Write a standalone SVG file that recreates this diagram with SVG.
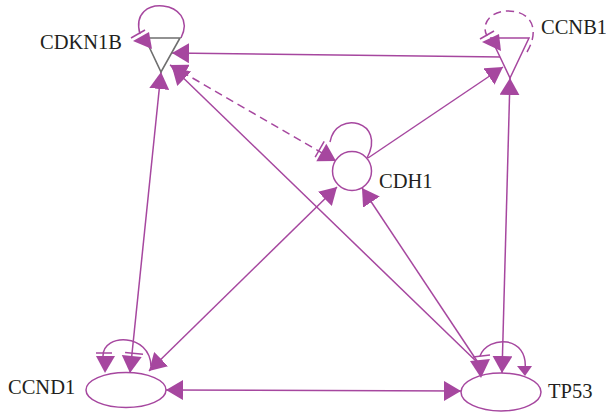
<svg xmlns="http://www.w3.org/2000/svg" width="606" height="413" viewBox="0 0 606 413">
  <defs>
    <style>
      .edge { fill: none; stroke: #A6479F; stroke-width: 1.5; }
      .dash { stroke-dasharray: 8 5; }
      .head { fill: #A6479F; stroke: none; }
      .bar { stroke: #A6479F; stroke-width: 1.5; fill: none; }
      .node { fill: #ffffff; stroke: #A6479F; stroke-width: 1.5; }
      .gray { fill: #ffffff; stroke: #6f6f6f; stroke-width: 1.6; }
      .label { font-family: "Liberation Serif", "Times New Roman", serif; font-size: 20.5px; fill: #231f20; }
    </style>
    <marker id="ah" viewBox="0 0 17 20" refX="17" refY="10" markerWidth="17" markerHeight="20" markerUnits="userSpaceOnUse" orient="auto-start-reverse">
      <path d="M0,0L17,10L0,20z" fill="#A6479F"/>
    </marker>
    <marker id="ahbar" viewBox="-5 -2 22 24" refX="17" refY="10" markerWidth="22" markerHeight="24" markerUnits="userSpaceOnUse" orient="auto-start-reverse">
      <path d="M0,0L17,10L0,20z" fill="#A6479F"/>
      <path d="M-3,-1L-3,17" stroke="#A6479F" stroke-width="1.5" fill="none"/>
    </marker>
  </defs>
  <rect width="606" height="413" fill="#ffffff"/>

  <!-- connectors -->
  <g id="edges">
    <path class="edge" d="M172,53 L502,57" marker-start="url(#ah)"/>
    <path class="edge dash" d="M170,65 L336,161" marker-start="url(#ah)" marker-end="url(#ahbar)"/>
    <path class="edge" d="M172,67 L479,364" marker-start="url(#ah)"/>
    <path class="edge" d="M161,72 L130,373" marker-start="url(#ah)" marker-end="url(#ahbar)"/>
    <path class="edge" d="M368,158 L503,67" marker-end="url(#ah)"/>
    <path class="edge" d="M337,187 L149,371" marker-start="url(#ah)" marker-end="url(#ah)"/>
    <path class="edge" d="M362,188 L479,364" marker-start="url(#ah)"/>
    <path class="edge" d="M510,78 L502,373" marker-start="url(#ah)" marker-end="url(#ah)"/>
    <path class="edge" d="M166,390 L461,391" marker-start="url(#ah)" marker-end="url(#ah)"/>
  </g>

  <!-- CDKN1B -->
  <g id="CDKN1B">
    <path class="edge" d="M181,38 C200,0 128,-8 140,34"/>
    <polygon class="gray" points="145,38 180,38 161,72"/>
    <polygon class="head" points="133,41 149,32 152,49"/>
    <path class="bar" d="M131,38 L145,30"/>
    <text class="label" x="40" y="49">CDKN1B</text>
  </g>

  <!-- CCNB1 -->
  <g id="CCNB1">
    <path class="edge dash" d="M527,52 C540,30 532,11 508,11 C489,11 481,25 487,36"/>
    <polygon class="node" points="491,38 529,38 510,78"/>
    <polygon class="head" points="482,42 499,34 501,51"/>
    <path class="bar" d="M480,39 L494,31"/>
    <text class="label" x="541" y="34">CCNB1</text>
  </g>

  <!-- CDH1 -->
  <g id="CDH1">
    <path class="edge" d="M367,158 C387,121 336,109 330,142"/>
    <circle class="node" cx="352" cy="171" r="19.5"/>
    <text class="label" x="379" y="188">CDH1</text>
  </g>

  <!-- CCND1 -->
  <g id="CCND1">
    <path class="edge" d="M103,356 C103,333 150,333 151,366"/>
    <ellipse class="node" cx="126" cy="390" rx="40" ry="17.5"/>
    <polygon class="head" points="96,356 115,356 105,373"/>
    <path class="bar" d="M96,353 L112,353"/>
    <text class="label" x="8" y="394">CCND1</text>
  </g>

  <!-- TP53 -->
  <g id="TP53">
    <path class="edge" d="M480,356 C488,335 529,335 525,370"/>
    <ellipse class="node" cx="501" cy="392" rx="40" ry="19"/>
    <polygon class="head" points="470,361 490,359 481,378"/>
    <path class="bar" d="M473,357 L490,355"/>
    <polygon class="head" points="517,366 532,366 525,376"/>
    <text class="label" x="548" y="398">TP53</text>
  </g>
</svg>
